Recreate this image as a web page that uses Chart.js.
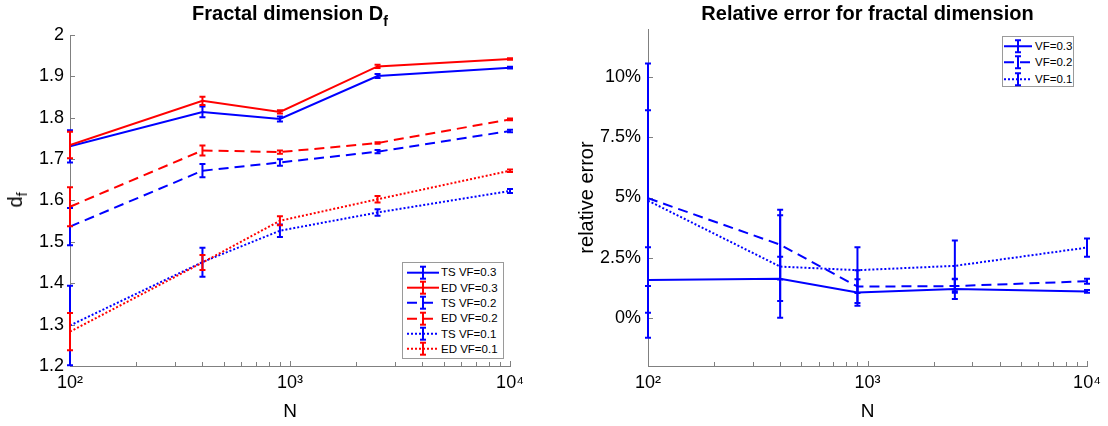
<!DOCTYPE html>
<html><head><meta charset="utf-8">
<script src="https://cdn.jsdelivr.net/npm/chart.js@4.4.1/dist/chart.umd.min.js"></script>
<style>
html,body{margin:0;padding:0;background:#fff;}
#wrap{position:relative;width:1108px;height:426px;overflow:hidden;font-family:"Liberation Sans",Arial,Helvetica,sans-serif;color:#000;}
canvas{position:absolute;top:0;}
#c1{left:0;}
#c2{left:560px;}
.title{position:absolute;top:3px;font-weight:bold;font-size:20px;line-height:20px;white-space:nowrap;transform:translateX(-50%);}
.title .sub{font-size:14px;position:relative;top:6px;}
#ylab1{position:absolute;left:16px;top:200px;font-size:20px;line-height:20px;white-space:nowrap;transform:translate(-50%,-50%) rotate(-90deg);}
#ylab1 .sub{font-size:14px;position:relative;top:5px;}
.legend{position:absolute;box-sizing:border-box;border:1px solid #9a9a9a;background:#fff;font-size:11.5px;}
.legend .row{display:flex;align-items:center;white-space:nowrap;}
.legend svg{display:block;flex:none;}
</style>
</head><body>
<div id="wrap">
  <canvas id="c1" width="560" height="426"></canvas>
  <canvas id="c2" width="548" height="426"></canvas>
  <div class="title" style="left:290px">Fractal dimension D<span class="sub">f</span></div>
  <div class="title" style="left:867.5px">Relative error for fractal dimension</div>
  <div id="ylab1">d<span class="sub">f</span></div>
  <div id="leg1" class="legend"></div>
  <div id="leg2" class="legend"></div>
</div>
<script>
// ---------- data ----------
const N = [100, 400, 900, 2500, 10000];

// left panel: fractal dimension d_f
const tsVF03 = [1.731, 1.814, 1.797, 1.901, 1.921];
const tsVF03Err = [0.039, 0.013, 0.006, 0.005, 0.002];
const edVF03 = [1.734, 1.841, 1.814, 1.924, 1.942];
const edVF03Err = [0.032, 0.010, 0.004, 0.004, 0.002];
const tsVF02 = [1.537, 1.672, 1.692, 1.718, 1.768];
const tsVF02Err = [0.045, 0.016, 0.008, 0.004, 0.003];
const edVF02 = [1.585, 1.721, 1.717, 1.739, 1.796];
const edVF02Err = [0.047, 0.012, 0.004, 0.002, 0.002];
const tsVF01 = [1.298, 1.451, 1.527, 1.571, 1.623];
const tsVF01Err = [0.096, 0.035, 0.015, 0.008, 0.005];
const edVF01 = [1.283, 1.450, 1.551, 1.603, 1.672];
const edVF01Err = [0.045, 0.018, 0.011, 0.008, 0.003];

// right panel: relative error (%)
const relVF03 = [1.57, 1.62, 1.05, 1.20, 1.10];
const relVF03Err = [1.36, 0.92, 0.55, 0.42, 0.06];
const relVF02 = [4.97, 3.04, 1.30, 1.32, 1.52];
const relVF02Err = [3.65, 1.45, 0.68, 0.28, 0.10];
const relVF01 = [4.87, 2.13, 1.98, 2.16, 2.92];
const relVF01Err = [5.70, 2.13, 0.95, 1.05, 0.38];

// ticks
const xMajorTicks = [100, 1000, 10000];
const xMajorLabels = ['10\u00B2', '10\u00B3', '10\u2074'];
const xMinorTicks = [200, 300, 400, 500, 600, 700, 800, 900, 2000, 3000, 4000, 5000, 6000, 7000, 8000, 9000];
const leftYTicks = [1.2, 1.3, 1.4, 1.5, 1.6, 1.7, 1.8, 1.9, 2.0];
const leftYLabels = ['1.2', '1.3', '1.4', '1.5', '1.6', '1.7', '1.8', '1.9', '2'];
const rightYTicks = [0, 2.5, 5, 7.5, 10];
const rightYLabels = ['0%', '2.5%', '5%', '7.5%', '10%'];

const leftLabels = ['TS VF=0.3', 'ED VF=0.3', 'TS VF=0.2', 'ED VF=0.2', 'TS VF=0.1', 'ED VF=0.1'];
const rightLabels = ['VF=0.3', 'VF=0.2', 'VF=0.1'];

// ---------- styling ----------
const BLUE = '#0000ff', RED = '#ff0000', AXIS = '#808080';
const SOLID = [], DASHED = [10, 6], DOTTED = [2, 2];
const FONT = '"Liberation Sans", Arial, Helvetica, sans-serif';
Chart.defaults.font.family = FONT;
Chart.defaults.color = '#000';

function ds(label, vals, errs, color, dash, idx) {
  return {
    label, data: N.map((x, i) => ({x, y: vals[i]})), errors: errs,
    borderColor: color, backgroundColor: color, borderWidth: 2, borderDash: dash,
    pointRadius: 0, pointHoverRadius: 0, fill: false, tension: 0, order: -idx
  };
}

const innerTicks = {
  id: 'innerTicks',
  beforeDatasetsDraw(chart) {
    const {ctx, chartArea: a, scales: {x, y}} = chart;
    ctx.save();
    ctx.strokeStyle = AXIS; ctx.lineWidth = 1; ctx.setLineDash([]);
    ctx.beginPath();
    x.ticks.forEach(t => {
      const px = Math.round(x.getPixelForValue(t.value)) + 0.5;
      const len = xMajorTicks.includes(t.value) ? 5 : 4;
      ctx.moveTo(px, a.bottom); ctx.lineTo(px, a.bottom - len);
    });
    y.ticks.forEach(t => {
      const py = Math.round(y.getPixelForValue(t.value)) + 0.5;
      ctx.moveTo(a.left, py); ctx.lineTo(a.left + 5, py);
    });
    ctx.stroke();
    ctx.restore();
  }
};

const errorBars = {
  id: 'errorBars',
  afterDatasetsDraw(chart) {
    const {ctx, scales: {x, y}} = chart;
    ctx.save();
    ctx.lineWidth = 2; ctx.setLineDash([]); ctx.lineCap = 'butt';
    chart.data.datasets.forEach(d => {
      ctx.strokeStyle = d.borderColor;
      d.data.forEach((p, i) => {
        const e = d.errors[i];
        const px = x.getPixelForValue(p.x);
        const y1 = y.getPixelForValue(p.y + e), y2 = y.getPixelForValue(p.y - e);
        ctx.beginPath();
        ctx.moveTo(px, y1); ctx.lineTo(px, y2);
        ctx.moveTo(px - 3, y1); ctx.lineTo(px + 3, y1);
        ctx.moveTo(px - 3, y2); ctx.lineTo(px + 3, y2);
        ctx.stroke();
      });
    });
    ctx.restore();
  }
};

function xScale(height) {
  return {
    type: 'logarithmic', min: 100, max: 10000,
    afterBuildTicks: s => { s.ticks = [...xMajorTicks, ...xMinorTicks].sort((a, b) => a - b).map(v => ({value: v})); },
    afterFit: s => { s.height = height; },
    grid: {display: false, drawTicks: false},
    border: {display: true, color: AXIS, width: 1},
    ticks: {
      autoSkip: false, maxRotation: 0, minRotation: 0, padding: 6,
      font: {size: 18}, color: '#000',
      callback: v => { const k = xMajorTicks.indexOf(v); return k >= 0 ? xMajorLabels[k] : ''; }
    },
    title: {display: true, text: 'N', font: {size: 19}, color: '#000', padding: {top: 0, bottom: 3}}
  };
}

// ---------- left chart ----------
new Chart(document.getElementById('c1'), {
  type: 'line',
  data: {
    datasets: [
      ds(leftLabels[0], tsVF03, tsVF03Err, BLUE, SOLID, 0),
      ds(leftLabels[1], edVF03, edVF03Err, RED, SOLID, 1),
      ds(leftLabels[2], tsVF02, tsVF02Err, BLUE, DASHED, 2),
      ds(leftLabels[3], edVF02, edVF02Err, RED, DASHED, 3),
      ds(leftLabels[4], tsVF01, tsVF01Err, BLUE, DOTTED, 4),
      ds(leftLabels[5], edVF01, edVF01Err, RED, DOTTED, 5)
    ]
  },
  options: {
    responsive: false, animation: false, devicePixelRatio: 1,
    layout: {padding: {top: 35, right: 50, bottom: 0, left: 0}},
    plugins: {legend: {display: false}, tooltip: {enabled: false}, title: {display: false}},
    scales: {
      x: xScale(60),
      y: {
        type: 'linear', min: 1.2, max: 2,
        afterBuildTicks: s => { s.ticks = leftYTicks.map(v => ({value: v})); },
        afterFit: s => { s.width = 70; },
        grid: {display: false, drawTicks: false},
        border: {display: true, color: AXIS, width: 1},
        ticks: {padding: 6, font: {size: 18}, color: '#000', callback: (v, i) => leftYLabels[i]}
      }
    }
  },
  plugins: [innerTicks, errorBars]
});

// ---------- right chart ----------
new Chart(document.getElementById('c2'), {
  type: 'line',
  data: {
    datasets: [
      ds(rightLabels[0], relVF03, relVF03Err, BLUE, SOLID, 0),
      ds(rightLabels[1], relVF02, relVF02Err, BLUE, DASHED, 1),
      ds(rightLabels[2], relVF01, relVF01Err, BLUE, DOTTED, 2)
    ]
  },
  options: {
    responsive: false, animation: false, devicePixelRatio: 1,
    layout: {padding: {top: 29, right: 21, bottom: 0, left: 0}},
    plugins: {legend: {display: false}, tooltip: {enabled: false}, title: {display: false}},
    scales: {
      x: xScale(60),
      y: {
        type: 'linear', min: -2, max: 12,
        afterBuildTicks: s => { s.ticks = rightYTicks.map(v => ({value: v})); },
        afterFit: s => { s.width = 88; },
        grid: {display: false, drawTicks: false},
        border: {display: true, color: AXIS, width: 1},
        ticks: {padding: 7, font: {size: 18}, color: '#000', callback: (v, i) => rightYLabels[i]},
        title: {display: true, text: 'relative error', font: {size: 20}, color: '#000', padding: {top: 15, bottom: 0}}
      }
    }
  },
  plugins: [innerTicks, errorBars]
});

// ---------- legends (HTML) ----------
function buildLegend(id, box, items) {
  const el = document.getElementById(id);
  Object.assign(el.style, {left: box.left + 'px', top: box.top + 'px', width: box.w + 'px', height: box.h + 'px', paddingTop: box.pt + 'px'});
  items.forEach(it => {
    const row = document.createElement('div');
    row.className = 'row';
    row.style.height = box.rowH + 'px';
    row.style.paddingLeft = box.pl + 'px';
    const W = box.iconW, H = box.rowH, m = H / 2, c = W / 2;
    const dash = it.dash.length ? `stroke-dasharray="${it.dash.join(',')}"` : '';
    row.innerHTML =
      `<svg width="${W}" height="${H}" viewBox="0 0 ${W} ${H}">` +
      `<line x1="0" y1="${m}" x2="${W}" y2="${m}" stroke="${it.color}" stroke-width="2" ${dash}/>` +
      `<line x1="${c}" y1="${m - 6}" x2="${c}" y2="${m + 6}" stroke="${it.color}" stroke-width="2"/>` +
      `<line x1="${c - 3}" y1="${m - 6}" x2="${c + 3}" y2="${m - 6}" stroke="${it.color}" stroke-width="2"/>` +
      `<line x1="${c - 3}" y1="${m + 6}" x2="${c + 3}" y2="${m + 6}" stroke="${it.color}" stroke-width="2"/>` +
      `</svg><span style="margin-left:${box.gap}px">${it.label}</span>`;
    el.appendChild(row);
  });
}
buildLegend('leg1', {left: 402, top: 262, w: 102, h: 97, pt: 1.5, rowH: 15.4, pl: 4, iconW: 32, gap: 2}, [
  {label: leftLabels[0], color: BLUE, dash: SOLID},
  {label: leftLabels[1], color: RED, dash: SOLID},
  {label: leftLabels[2], color: BLUE, dash: DASHED},
  {label: leftLabels[3], color: RED, dash: DASHED},
  {label: leftLabels[4], color: BLUE, dash: DOTTED},
  {label: leftLabels[5], color: RED, dash: DOTTED}
]);
buildLegend('leg2', {left: 1002, top: 36, w: 72, h: 51, pt: 0.5, rowH: 16.5, pl: 1, iconW: 28, gap: 3}, [
  {label: rightLabels[0], color: BLUE, dash: SOLID},
  {label: rightLabels[1], color: BLUE, dash: DASHED},
  {label: rightLabels[2], color: BLUE, dash: DOTTED}
]);
</script>
</body></html>
